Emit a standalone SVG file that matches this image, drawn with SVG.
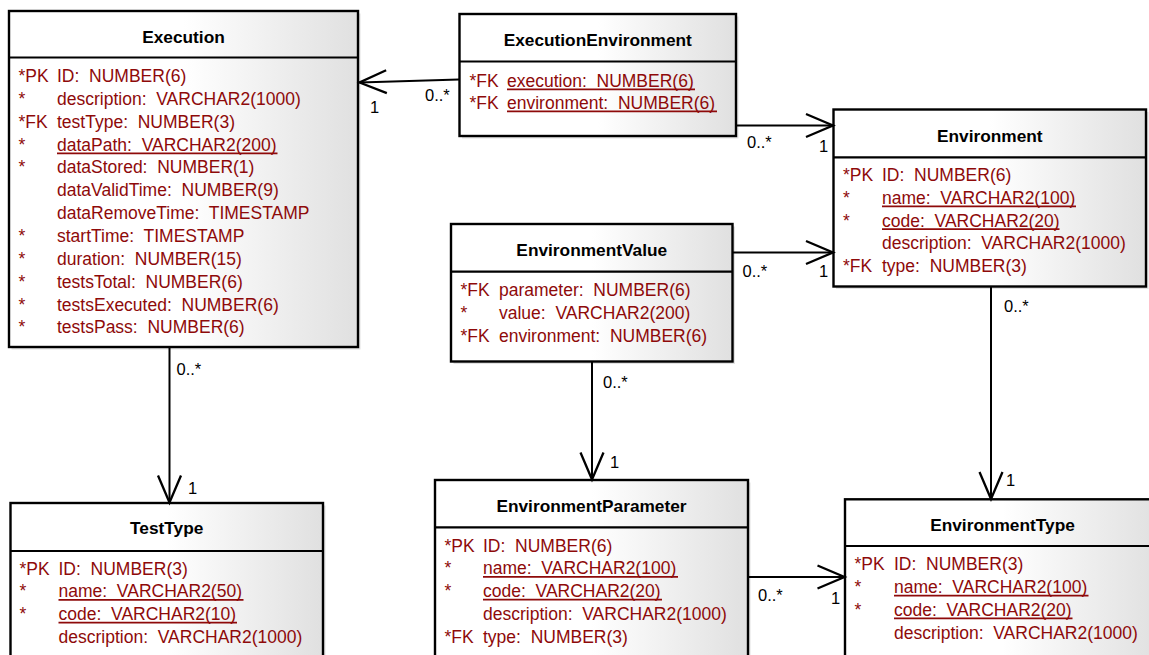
<svg xmlns="http://www.w3.org/2000/svg" width="1149" height="655" viewBox="0 0 1149 655">
  <defs>
    <linearGradient id="boxFill" x1="0" y1="0" x2="1" y2="0">
      <stop offset="0" stop-color="#ffffff"/>
      <stop offset="0.5" stop-color="#ffffff"/>
      <stop offset="1" stop-color="#e0e0e0"/>
    </linearGradient>
    <marker id="open" viewBox="-30 -14 32 28" refX="0" refY="0" markerWidth="32" markerHeight="28" markerUnits="userSpaceOnUse" orient="auto" overflow="visible">
      <path d="M-27,-11.5 L0,0 L-27,11.5" fill="none" stroke="#000" stroke-width="2.3"/>
    </marker>
    <style>
      .shadow { fill: #e2e2e2; }
      .box { fill: url(#boxFill); stroke: #000; stroke-width: 2.4; }
      .sep { stroke: #000; stroke-width: 2.2; }
      .title { font-family: "Liberation Sans", Arial, sans-serif; font-size: 17.3px; font-weight: bold; fill: #000; text-anchor: middle; }
      .row { font-family: "Liberation Sans", Arial, sans-serif; font-size: 17.5px; fill: #8e0a0a; white-space: pre; }
      .ul { stroke: #8e0a0a; stroke-width: 1.8; }
      .edge { fill: none; stroke: #000; stroke-width: 2; marker-end: url(#open); }
      .card { font-family: "Liberation Sans", Arial, sans-serif; font-size: 16.5px; fill: #000; }
    </style>
  </defs>

  <rect width="1149" height="655" fill="#ffffff"/>

  <!-- Execution -->
  <g id="Execution">
    <rect class="shadow" x="11.5" y="13.5" width="349" height="336"/>
    <rect class="box" x="9" y="11" width="349" height="336"/>
    <line class="sep" x1="9" y1="57.5" x2="358" y2="57.5"/>
    <text class="title" x="183.5" y="43">Execution</text>
    <text class="row" x="18.5" y="82">*PK</text><text class="row" x="57" y="82">ID:  NUMBER(6)</text>
    <text class="row" x="18.5" y="104.85">*</text><text class="row" x="57" y="104.85">description:  VARCHAR2(1000)</text>
    <text class="row" x="18.5" y="127.7">*FK</text><text class="row" x="57" y="127.7">testType:  NUMBER(3)</text>
    <text class="row" x="18.5" y="150.55">*</text><text class="row" x="57" y="150.55">dataPath:  VARCHAR2(200)</text>
    <line class="ul" x1="57" y1="153.3" x2="277.5" y2="153.3"/>
    <text class="row" x="18.5" y="173.4">*</text><text class="row" x="57" y="173.4">dataStored:  NUMBER(1)</text>
    <text class="row" x="57" y="196.25">dataValidTime:  NUMBER(9)</text>
    <text class="row" x="57" y="219.1">dataRemoveTime:  TIMESTAMP</text>
    <text class="row" x="18.5" y="241.95">*</text><text class="row" x="57" y="241.95">startTime:  TIMESTAMP</text>
    <text class="row" x="18.5" y="264.8">*</text><text class="row" x="57" y="264.8">duration:  NUMBER(15)</text>
    <text class="row" x="18.5" y="287.65">*</text><text class="row" x="57" y="287.65">testsTotal:  NUMBER(6)</text>
    <text class="row" x="18.5" y="310.5">*</text><text class="row" x="57" y="310.5">testsExecuted:  NUMBER(6)</text>
    <text class="row" x="18.5" y="333.35">*</text><text class="row" x="57" y="333.35">testsPass:  NUMBER(6)</text>
  </g>

  <!-- ExecutionEnvironment -->
  <g id="ExecutionEnvironment">
    <rect class="shadow" x="462" y="16.5" width="276.5" height="122"/>
    <rect class="box" x="459.5" y="14" width="276.5" height="122"/>
    <line class="sep" x1="459.5" y1="61.5" x2="736" y2="61.5"/>
    <text class="title" x="597.75" y="46">ExecutionEnvironment</text>
    <text class="row" x="469.5" y="86.5">*FK</text><text class="row" x="507" y="86.5">execution:  NUMBER(6)</text>
    <line class="ul" x1="507" y1="89.3" x2="695" y2="89.3"/>
    <text class="row" x="469.5" y="108.8">*FK</text><text class="row" x="507" y="108.8">environment:  NUMBER(6)</text>
    <line class="ul" x1="507" y1="111.4" x2="717" y2="111.4"/>
  </g>

  <!-- Environment -->
  <g id="Environment">
    <rect class="shadow" x="836" y="112" width="312.5" height="177"/>
    <rect class="box" x="833.5" y="109.5" width="312.5" height="177"/>
    <line class="sep" x1="833.5" y1="157.3" x2="1146" y2="157.3"/>
    <text class="title" x="989.75" y="141.5">Environment</text>
    <text class="row" x="843" y="181.2">*PK</text><text class="row" x="882" y="181.2">ID:  NUMBER(6)</text>
    <text class="row" x="843" y="203.95">*</text><text class="row" x="882" y="203.95">name:  VARCHAR2(100)</text>
    <line class="ul" x1="882" y1="206.4" x2="1076" y2="206.4"/>
    <text class="row" x="843" y="226.7">*</text><text class="row" x="882" y="226.7">code:  VARCHAR2(20)</text>
    <line class="ul" x1="882" y1="229.2" x2="1059.5" y2="229.2"/>
    <text class="row" x="882" y="249.45">description:  VARCHAR2(1000)</text>
    <text class="row" x="843" y="272.2">*FK</text><text class="row" x="882" y="272.2">type:  NUMBER(3)</text>
  </g>

  <!-- EnvironmentValue -->
  <g id="EnvironmentValue">
    <rect class="shadow" x="453.5" y="226.5" width="281.5" height="137.5"/>
    <rect class="box" x="451" y="224" width="281.5" height="137.5"/>
    <line class="sep" x1="451" y1="271.7" x2="732.5" y2="271.7"/>
    <text class="title" x="591.75" y="255.5">EnvironmentValue</text>
    <text class="row" x="460.5" y="296">*FK</text><text class="row" x="499" y="296">parameter:  NUMBER(6)</text>
    <text class="row" x="460.5" y="318.8">*</text><text class="row" x="499" y="318.8">value:  VARCHAR2(200)</text>
    <text class="row" x="460.5" y="341.6">*FK</text><text class="row" x="499" y="341.6">environment:  NUMBER(6)</text>
  </g>

  <!-- TestType -->
  <g id="TestType">
    <rect class="shadow" x="13" y="505.5" width="312.5" height="170"/>
    <rect class="box" x="10.5" y="503" width="312.5" height="170"/>
    <line class="sep" x1="10.5" y1="551" x2="323" y2="551"/>
    <text class="title" x="166.75" y="534">TestType</text>
    <text class="row" x="19.5" y="574.5">*PK</text><text class="row" x="58.5" y="574.5">ID:  NUMBER(3)</text>
    <text class="row" x="19.5" y="597.3">*</text><text class="row" x="58.5" y="597.3">name:  VARCHAR2(50)</text>
    <line class="ul" x1="58.5" y1="599.8" x2="243.5" y2="599.8"/>
    <text class="row" x="19.5" y="620.1">*</text><text class="row" x="58.5" y="620.1">code:  VARCHAR2(10)</text>
    <line class="ul" x1="58.5" y1="622.6" x2="237" y2="622.6"/>
    <text class="row" x="58.5" y="642.9">description:  VARCHAR2(1000)</text>
  </g>

  <!-- EnvironmentParameter -->
  <g id="EnvironmentParameter">
    <rect class="shadow" x="437.5" y="482.5" width="313" height="190"/>
    <rect class="box" x="435" y="480" width="313" height="190"/>
    <line class="sep" x1="435" y1="527.3" x2="748" y2="527.3"/>
    <text class="title" x="591.5" y="511.5">EnvironmentParameter</text>
    <text class="row" x="444.5" y="551.5">*PK</text><text class="row" x="483" y="551.5">ID:  NUMBER(6)</text>
    <text class="row" x="444.5" y="574.3">*</text><text class="row" x="483" y="574.3">name:  VARCHAR2(100)</text>
    <line class="ul" x1="483" y1="576.8" x2="678" y2="576.8"/>
    <text class="row" x="444.5" y="597.1">*</text><text class="row" x="483" y="597.1">code:  VARCHAR2(20)</text>
    <line class="ul" x1="483" y1="599.6" x2="662" y2="599.6"/>
    <text class="row" x="483" y="619.9">description:  VARCHAR2(1000)</text>
    <text class="row" x="444.5" y="642.7">*FK</text><text class="row" x="483" y="642.7">type:  NUMBER(3)</text>
  </g>

  <!-- EnvironmentType -->
  <g id="EnvironmentType">
    <rect class="shadow" x="847.5" y="501.8" width="315" height="170"/>
    <rect class="box" x="845" y="499.3" width="315" height="170"/>
    <line class="sep" x1="845" y1="546" x2="1160" y2="546"/>
    <text class="title" x="1002.5" y="530.5">EnvironmentType</text>
    <text class="row" x="854.5" y="570.3">*PK</text><text class="row" x="894" y="570.3">ID:  NUMBER(3)</text>
    <text class="row" x="854.5" y="593.1">*</text><text class="row" x="894" y="593.1">name:  VARCHAR2(100)</text>
    <line class="ul" x1="894" y1="595.6" x2="1088.5" y2="595.6"/>
    <text class="row" x="854.5" y="615.9">*</text><text class="row" x="894" y="615.9">code:  VARCHAR2(20)</text>
    <line class="ul" x1="894" y1="618.4" x2="1072.5" y2="618.4"/>
    <text class="row" x="894" y="638.7">description:  VARCHAR2(1000)</text>
  </g>

  <!-- relationships, drawn over the tables so they meet the borders -->
  <g id="connectors">
    <path class="edge" d="M459,79.5 L359.5,82.5"/>
    <text class="card" x="425" y="101">0..*</text>
    <text class="card" x="370" y="113">1</text>

    <path class="edge" d="M736.5,125.5 L833,125.5"/>
    <text class="card" x="747" y="148">0..*</text>
    <text class="card" x="819" y="152">1</text>

    <path class="edge" d="M733,252.5 L833,252.5"/>
    <text class="card" x="742.5" y="277">0..*</text>
    <text class="card" x="819" y="277">1</text>

    <path class="edge" d="M169.5,347.5 L169.5,502.5"/>
    <text class="card" x="176.5" y="375">0..*</text>
    <text class="card" x="188" y="494">1</text>

    <path class="edge" d="M592,362 L592,479.5"/>
    <text class="card" x="603" y="388">0..*</text>
    <text class="card" x="610" y="468">1</text>

    <path class="edge" d="M748.5,577 L844.5,577"/>
    <text class="card" x="758" y="601">0..*</text>
    <text class="card" x="831" y="604">1</text>

    <path class="edge" d="M991,286.5 L991,499"/>
    <text class="card" x="1004" y="312">0..*</text>
    <text class="card" x="1006" y="486">1</text>
  </g>
</svg>
